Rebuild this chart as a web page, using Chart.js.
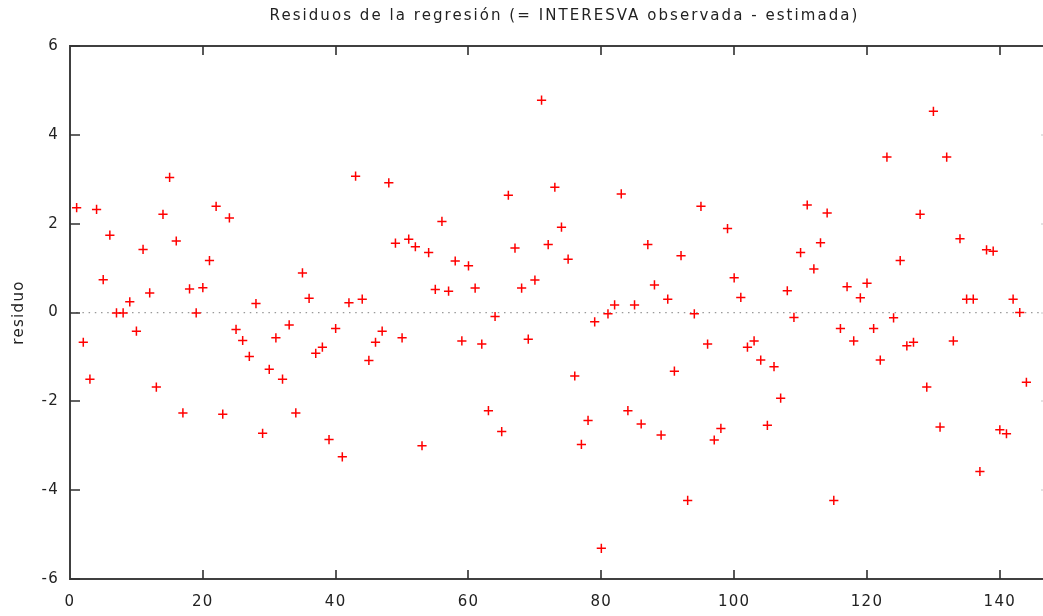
<!DOCTYPE html>
<html>
<head>
<meta charset="utf-8">
<script src="https://cdn.jsdelivr.net/npm/chart.js@4/dist/chart.umd.min.js"></script>
<style>
  html, body { margin: 0; padding: 0; background: #ffffff; }
  #wrap { width: 1043px; height: 616px; position: relative; }
</style>
</head>
<body>
<div id="wrap"><canvas id="c" width="1043" height="616"></canvas></div>
<script>
// ---- data ----
const titleText = "Residuos de la regresión (= INTERESVA observada - estimada)";
const yAxisLabel = "residuo";
const observations = Array.from({length: 144}, (_, i) => i + 1);
const residuals = [
  2.36, -0.67, -1.50, 2.32, 0.74, 1.74, -0.01, -0.01, 0.24, -0.42,
  1.42, 0.44, -1.68, 2.21, 3.04, 1.61, -2.26, 0.53, -0.01, 0.56,
  1.17, 2.39, -2.29, 2.13, -0.38, -0.63, -0.99, 0.20, -2.72, -1.28,
  -0.57, -1.50, -0.28, -2.26, 0.89, 0.32, -0.92, -0.78, -2.86, -0.36,
  -3.25, 0.22, 3.07, 0.30, -1.08, -0.67, -0.42, 2.92, 1.56, -0.57,
  1.65, 1.48, -3.00, 1.35, 0.52, 2.05, 0.48, 1.16, -0.64, 1.05,
  0.55, -0.71, -2.21, -0.09, -2.68, 2.64, 1.45, 0.55, -0.60, 0.73,
  4.78, 1.53, 2.82, 1.92, 1.20, -1.43, -2.97, -2.43, -0.21, -5.31,
  -0.03, 0.17, 2.67, -2.21, 0.17, -2.51, 1.53, 0.62, -2.76, 0.30,
  -1.32, 1.28, -4.23, -0.03, 2.39, -0.71, -2.87, -2.61, 1.89, 0.78,
  0.34, -0.78, -0.64, -1.07, -2.54, -1.22, -1.93, 0.49, -0.11, 1.35,
  2.42, 0.98, 1.57, 2.24, -4.23, -0.36, 0.58, -0.64, 0.33, 0.66,
  -0.36, -1.07, 3.50, -0.12, 1.17, -0.75, -0.67, 2.21, -1.68, 4.53,
  -2.58, 3.50, -0.64, 1.66, 0.30, 0.30, -3.58, 1.41, 1.38, -2.64,
  -2.73, 0.30, 0.00, -1.57
];
const xTickValues = [0, 20, 40, 60, 80, 100, 120, 140];
const yTickValues = [-6, -4, -2, 0, 2, 4, 6];
const xRange = [0, 146.5];
const yRange = [-6, 6];

const points = observations.map((x, i) => ({x: x, y: residuals[i]}));

const FONT = "'DejaVu Sans', Verdana, sans-serif";

const framePlugin = {
  id: 'frame',
  beforeDraw(chart) {
    chart.ctx.letterSpacing = '1.3px';
  },
  afterLayout(chart) {
    const tb = chart.titleBlock;
    if (tb && !tb._wrapped) {
      const orig = tb.draw.bind(tb);
      tb.draw = function () {
        const ctx = chart.ctx;
        const prev = ctx.letterSpacing;
        ctx.letterSpacing = '2.05px';
        orig();
        ctx.letterSpacing = prev;
      };
      tb._wrapped = true;
    }
    if (tb) { tb.left = 86; tb.right = chart.width; tb.width = tb.right - tb.left; }
  },
  afterDraw(chart) {
    const {ctx, chartArea: a, scales} = chart;
    ctx.save();
    ctx.strokeStyle = '#404040';
    ctx.lineWidth = 2;
    ctx.beginPath();
    ctx.moveTo(a.right + 2, a.top);
    ctx.lineTo(a.left, a.top);
    ctx.lineTo(a.left, a.bottom);
    ctx.lineTo(a.right + 2, a.bottom);
    ctx.stroke();
    ctx.lineWidth = 1.6;
    ctx.strokeStyle = '#303030';
    ctx.beginPath();
    scales.x.ticks.forEach(t => {
      const px = Math.round(scales.x.getPixelForValue(t.value));
      if (px <= a.left + 1) return;
      ctx.moveTo(px, a.bottom); ctx.lineTo(px, a.bottom - 9);
      ctx.moveTo(px, a.top); ctx.lineTo(px, a.top + 9);
    });
    scales.y.ticks.forEach(t => {
      const py = Math.round(scales.y.getPixelForValue(t.value));
      ctx.moveTo(a.left, py); ctx.lineTo(a.left + 10, py);
    });
    ctx.stroke();
    ctx.strokeStyle = '#c8c8c8';
    ctx.lineWidth = 1.2;
    ctx.beginPath();
    scales.y.ticks.forEach(t => {
      const py = Math.round(scales.y.getPixelForValue(t.value));
      if (t.value === 6 || t.value === -6) return;
      ctx.moveTo(a.right, py); ctx.lineTo(a.right - 2, py);
    });
    ctx.stroke();
    ctx.restore();
  }
};

new Chart(document.getElementById('c'), {
  type: 'scatter',
  data: {
    datasets: [{
      label: 'residuo',
      data: points,
      pointStyle: 'cross',
      pointRadius: 4.6,
      pointHoverRadius: 4.6,
      pointBorderWidth: 1.5,
      borderColor: '#ff0000',
      backgroundColor: '#ff0000',
      showLine: false
    }]
  },
  options: {
    responsive: false,
    animation: false,
    events: [],
    layout: { autoPadding: false, padding: { left: 0, right: 0, top: 0, bottom: 0 } },
    plugins: {
      legend: { display: false },
      tooltip: { enabled: false },
      title: {
        display: true,
        text: titleText,
        color: '#222222',
        font: { family: FONT, size: 15, weight: 'normal' },
        padding: { top: 7, bottom: 21 }
      }
    },
    scales: {
      x: {
        type: 'linear',
        min: xRange[0],
        max: xRange[1],
        afterBuildTicks: s => { s.ticks = xTickValues.map(v => ({value: v})); },
        afterFit: s => { s.height = 37; },
        grid: { display: false, drawTicks: false },
        border: { display: false },
        ticks: {
          padding: 14,
          color: '#222222',
          font: { family: FONT, size: 15 },
          maxRotation: 0,
          autoSkip: false
        }
      },
      y: {
        type: 'linear',
        min: yRange[0],
        max: yRange[1],
        afterBuildTicks: s => { s.ticks = yTickValues.map(v => ({value: v})); },
        afterFit: s => { s.width = 70; },
        grid: {
          display: true,
          drawTicks: false,
          lineWidth: 1.3,
          color: c => (c.tick && c.tick.value === 0) ? '#999999' : 'rgba(0,0,0,0)'
        },
        border: { display: false, dash: [1.5, 4.7] },
        title: {
          display: true,
          text: yAxisLabel,
          color: '#222222',
          font: { family: FONT, size: 15 },
          padding: { top: 10, bottom: 0 }
        },
        ticks: {
          padding: 11,
          color: '#222222',
          font: { family: FONT, size: 15 },
          autoSkip: false
        }
      }
    }
  },
  plugins: [framePlugin]
});
</script>
</body>
</html>
